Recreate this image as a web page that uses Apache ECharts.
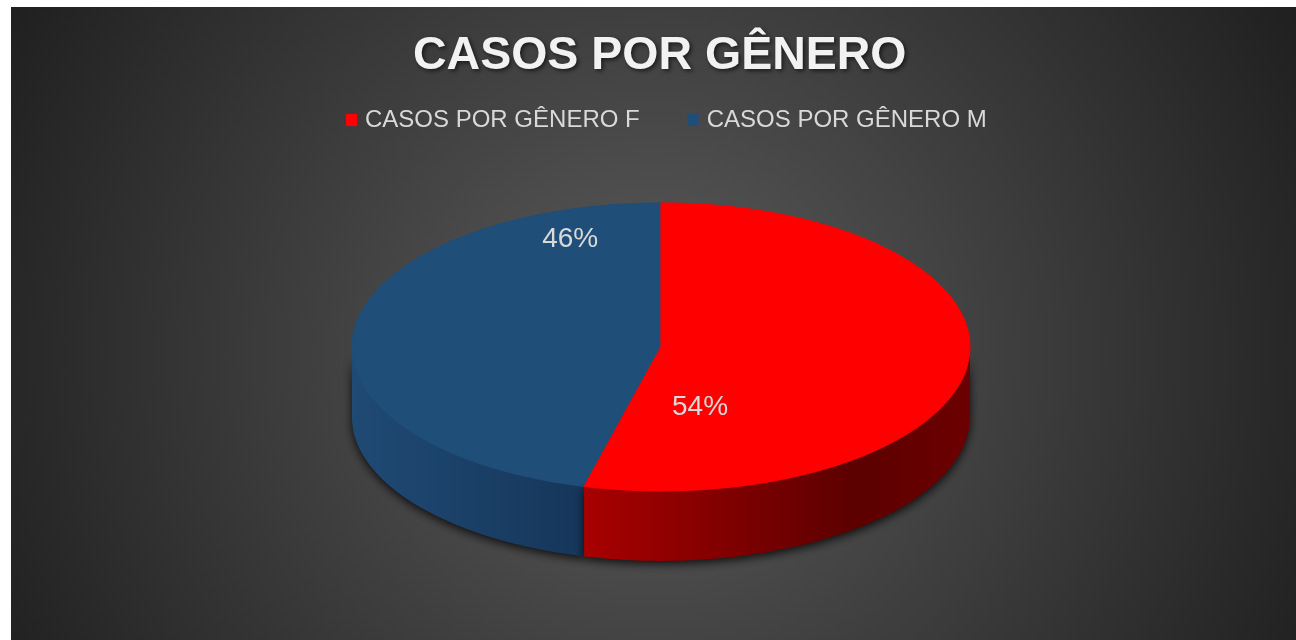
<!DOCTYPE html>
<html>
<head>
<meta charset="utf-8">
<title>Casos por gênero</title>
<script src="https://cdn.jsdelivr.net/npm/echarts@6/dist/echarts.min.js"></script>
<style>
  html, body { margin: 0; background: #fff; }
  #chart { position: absolute; left: 11px; top: 7px; width: 1285px; height: 633px; }
</style>
</head>
<body>
<div id="chart"></div>
<script>
// dados
var categories = ['CASOS POR GÊNERO F', 'CASOS POR GÊNERO M']
var values = [54, 46]

var total = values.reduce(function (a, b) { return a + b }, 0)

var topColors = ['#ff0000', '#1f4e79']
var sideStops = [
  [{ offset: 0, color: '#a80000' }, { offset: 0.7, color: '#5c0000' }, { offset: 1, color: '#6c0000' }],
  [{ offset: 0, color: '#1f4a74' }, { offset: 1, color: '#16365a' }]
]
// where Excel put each label: fraction of the slice angle, fraction of the radius
var labelSpot = [[0.84, 0.44], [0.87, 0.8]]

function geom(api) {
  return { cx: api.getWidth() * 0.5058, cy: api.getHeight() * 0.537, rx: 309, ry: 144, depth: 70 }
}

function pt(g, deg, r, dy) {
  var t = deg * Math.PI / 180
  return [g.cx + g.rx * r * Math.sin(t), g.cy - g.ry * r * Math.cos(t) + (dy || 0)]
}

function arc(g, from, to, dy) {
  var pts = []
  var n = Math.max(2, Math.ceil(Math.abs(to - from)))
  for (var i = 0; i <= n; i++) {
    pts.push(pt(g, from + (to - from) * i / n, 1, dy))
  }
  return pts
}

function renderSlice(params, api) {
  var idx = params.seriesIndex
  var g = geom(api)
  var before = 0
  for (var k = 0; k < idx; k++) before += values[k]
  var v = api.value(0)
  var a = before / total * 360
  var b = (before + v) / total * 360
  var children = []

  // front wall, only the part facing us (90..270 deg)
  var s = Math.max(a, 90)
  var e = Math.min(b, 270)
  if (e > s) {
    children.push({
      type: 'polygon',
      shape: { points: arc(g, s, e, 0).concat(arc(g, e, s, g.depth)) },
      style: {
        fill: new echarts.graphic.LinearGradient(0, 0, 1, 0, sideStops[idx]),
        shadowBlur: 10,
        shadowOffsetY: 3,
        shadowColor: 'rgba(0,0,0,0.8)'
      }
    })
  }

  // top face
  children.push({
    type: 'polygon',
    shape: { points: [[g.cx, g.cy]].concat(arc(g, a, b, 0)) },
    style: { fill: topColors[idx], stroke: topColors[idx], lineWidth: 1 }
  })

  var spot = labelSpot[idx]
  var lp = pt(g, a + (b - a) * spot[0], spot[1])
  children.push({
    type: 'text',
    x: lp[0],
    y: lp[1],
    z2: 10,
    style: {
      text: Math.round(v / total * 100) + '%',
      fill: '#d9d9d9',
      font: '28px "Liberation Sans", Arial, sans-serif',
      align: 'center',
      verticalAlign: 'middle'
    }
  })

  return { type: 'group', children: children }
}

var chart = echarts.init(document.getElementById('chart'))

chart.setOption({
  animation: false,
  backgroundColor: new echarts.graphic.RadialGradient(0.5, 0.55, 1.15, [
    { offset: 0, color: '#5b5b5b' },
    { offset: 1, color: '#202020' }
  ]),
  title: {
    text: 'CASOS POR GÊNERO',
    left: 402,
    top: 26,
    padding: 0,
    textStyle: {
      color: '#f2f2f2',
      fontSize: 46.5,
      fontWeight: 'bold',
      fontFamily: '"Liberation Sans", Arial, sans-serif',
      textShadowColor: 'rgba(0,0,0,0.6)',
      textShadowBlur: 4,
      textShadowOffsetX: 2,
      textShadowOffsetY: 2
    }
  },
  legend: {
    top: 96,
    left: 330,
    icon: 'rect',
    itemWidth: 11,
    itemHeight: 12,
    itemGap: 48,
    data: categories,
    textStyle: {
      color: '#d9d9d9',
      fontSize: 24,
      padding: [0, 0, 0, 3],
      fontFamily: '"Liberation Sans", Arial, sans-serif'
    }
  },
  series: categories.map(function (name, i) {
    return {
      name: name,
      type: 'custom',
      coordinateSystem: 'none',
      z: i === 0 ? 3 : 2,
      itemStyle: { color: topColors[i] },
      renderItem: renderSlice,
      data: [[values[i]]]
    }
  })
})
</script>
</body>
</html>
